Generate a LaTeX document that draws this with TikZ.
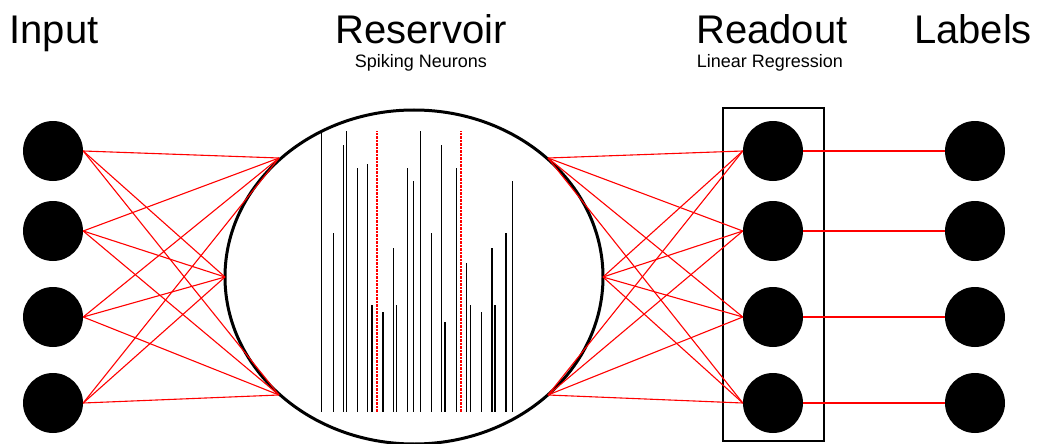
\documentclass[tikz,border=0pt]{standalone}
\usepackage{fontspec}
\setmainfont{Liberation Sans}
\usetikzlibrary{shapes.geometric}
\definecolor{synred}{RGB}{255,0,0}
\begin{document}
\begin{tikzpicture}[x=1pt,y=-1pt,
  neuron/.style={circle,fill=black,minimum size=60,inner sep=0},
  syn/.style={draw=synred,line width=1.1},
  outsyn/.style={draw=synred,line width=2},
  spike/.style={draw=black,line width=1.2},
  redspike/.style={draw=synred,line width=2,dash pattern=on 2.5 off 1},
  title/.style={font=\fontsize{40}{44}\selectfont,anchor=base},
  sub/.style={font=\fontsize{18}{20}\selectfont,anchor=base}]
\useasboundingbox (0,0) rectangle (1037,444);
% titles
\node[title] (tin) at (54,44) {Input};
\node[title] (tres) at (421,44) {Reservoir};
\node[sub] (sres) at (421,67) {Spiking Neurons};
\node[title] (tread) at (772,44) {Readout};
\node[sub] (sread) at (770,67) {Linear Regression};
\node[title] (tlab) at (973,44) {Labels};
% reservoir
\node (res) [draw,ellipse,line width=3,minimum width=378,minimum height=334,inner sep=0] at (414,277) {};
\coordinate (rl1) at (279,158);
\coordinate (rl2) at (225,277);
\coordinate (rl3) at (279,395);
\coordinate (rr1) at (548,158);
\coordinate (rr2) at (603,277);
\coordinate (rr3) at (548,395);
% readout box
\node (box) [draw,line width=2,minimum width=101,minimum height=333,inner sep=0] at (773.5,274.5) {};
% neurons
\foreach \i/\y in {1/151,2/231,3/317,4/403}{
  \node[neuron] (in\i) at (53,\y) {};
  \node[neuron] (ro\i) at (773,\y) {};
  \node[neuron] (lb\i) at (975,\y) {};
}
% connections
\foreach \i/\k in {1/1,1/2,1/3,2/1,2/2,2/3,3/1,3/2,3/3,4/1,4/2,4/3}{
  \path[syn] (in\i.east) -- (rl\k);
  \path[syn] (rr\k) -- (ro\i.west);
}
\path[outsyn] (ro1.east) -- (lb1.west);
\path[outsyn] (ro2.east) -- (lb2.west);
\path[outsyn] (ro3.east) -- (lb3.west);
\path[outsyn] (ro4.east) -- (lb4.west);
% spikes
\foreach \x/\t in {321.7/132.7,333.3/233.3,343.3/145,346.3/130.7,357.7/168.3,367.7/164,372/305,383/312.3,393.3/248.3,396.3/305,407.7/168.3,413.3/180.7,420.7/130.7,431.7/233.3,441.7/145,445/321.7,456.3/168.3,466.7/263.3,470.7/305,481.7/312.3,492/248.3,495/305,506/233.3,512.7/180.7}{
  \path[spike] (\x,411.7) -- (\x,\t);
}
\path[redspike] (377,411.7) -- (377,130.7);
\path[redspike] (461,411.7) -- (461,130.7);
\end{tikzpicture}
\end{document}
